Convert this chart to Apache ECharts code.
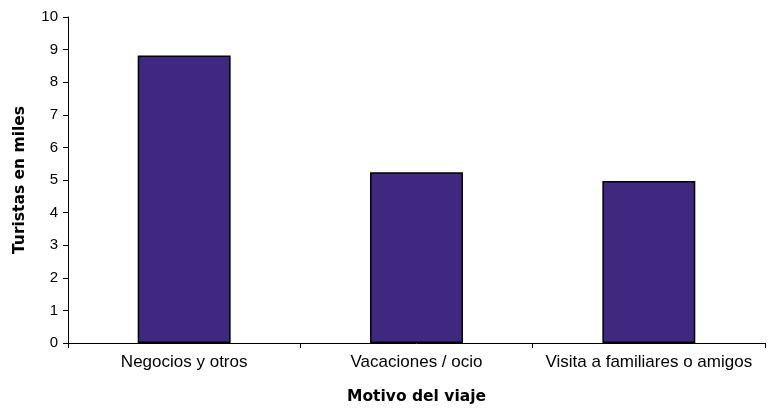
<!DOCTYPE html>
<html>
<head>
<meta charset="utf-8">
<script src="https://cdn.jsdelivr.net/npm/echarts@6/dist/echarts.min.js"></script>
<style>
    html, body { margin: 0; padding: 0; background: #fff; }
    #chart { width: 768px; height: 410px; }
</style>
</head>
<body>
<div id="chart"></div>
<script>
    const categories = ['Negocios y otros', 'Vacaciones / ocio', 'Visita a familiares o amigos'];
    const turistas = [8.82, 5.24, 4.97];

    const myChart = echarts.init(document.getElementById('chart'));
    const option = {
        animation: false,
        grid: {
            left: 68,
            right: 3,
            top: 17,
            bottom: 66
        },
        xAxis: {
            type: 'category',
            data: categories,
            name: 'Motivo del viaje',
            nameLocation: 'middle',
            nameGap: 46,
            nameTextStyle: {
                fontFamily: 'DejaVu Sans',
                fontWeight: 'bold',
                fontSize: 15.5,
                color: '#000'
            },
            axisLine: { lineStyle: { color: '#000', width: 1 } },
            axisTick: { show: true, length: 5, lineStyle: { color: '#000' } },
            axisLabel: {
                interval: 0,
                hideOverlap: false,
                fontFamily: 'Liberation Sans',
                fontSize: 17,
                color: '#000',
                margin: 11
            }
        },
        yAxis: {
            type: 'value',
            min: 0,
            max: 10,
            interval: 1,
            name: 'Turistas en miles',
            nameLocation: 'middle',
            nameGap: 40,
            nameTextStyle: {
                fontFamily: 'DejaVu Sans',
                fontWeight: 'bold',
                fontSize: 15.5,
                color: '#000'
            },
            axisLine: { show: true, lineStyle: { color: '#000', width: 1 } },
            axisTick: { show: true, length: 5, lineStyle: { color: '#000' } },
            axisLabel: {
                fontFamily: 'Liberation Sans',
                fontSize: 15,
                color: '#000',
                margin: 10
            },
            splitLine: { show: false }
        },
        series: [
            {
                type: 'bar',
                data: turistas,
                barWidth: '40%',
                itemStyle: {
                    color: '#3f2880',
                    borderColor: '#000',
                    borderWidth: 1.5
                }
            }
        ]
    };
    myChart.setOption(option);
</script>
</body>
</html>
